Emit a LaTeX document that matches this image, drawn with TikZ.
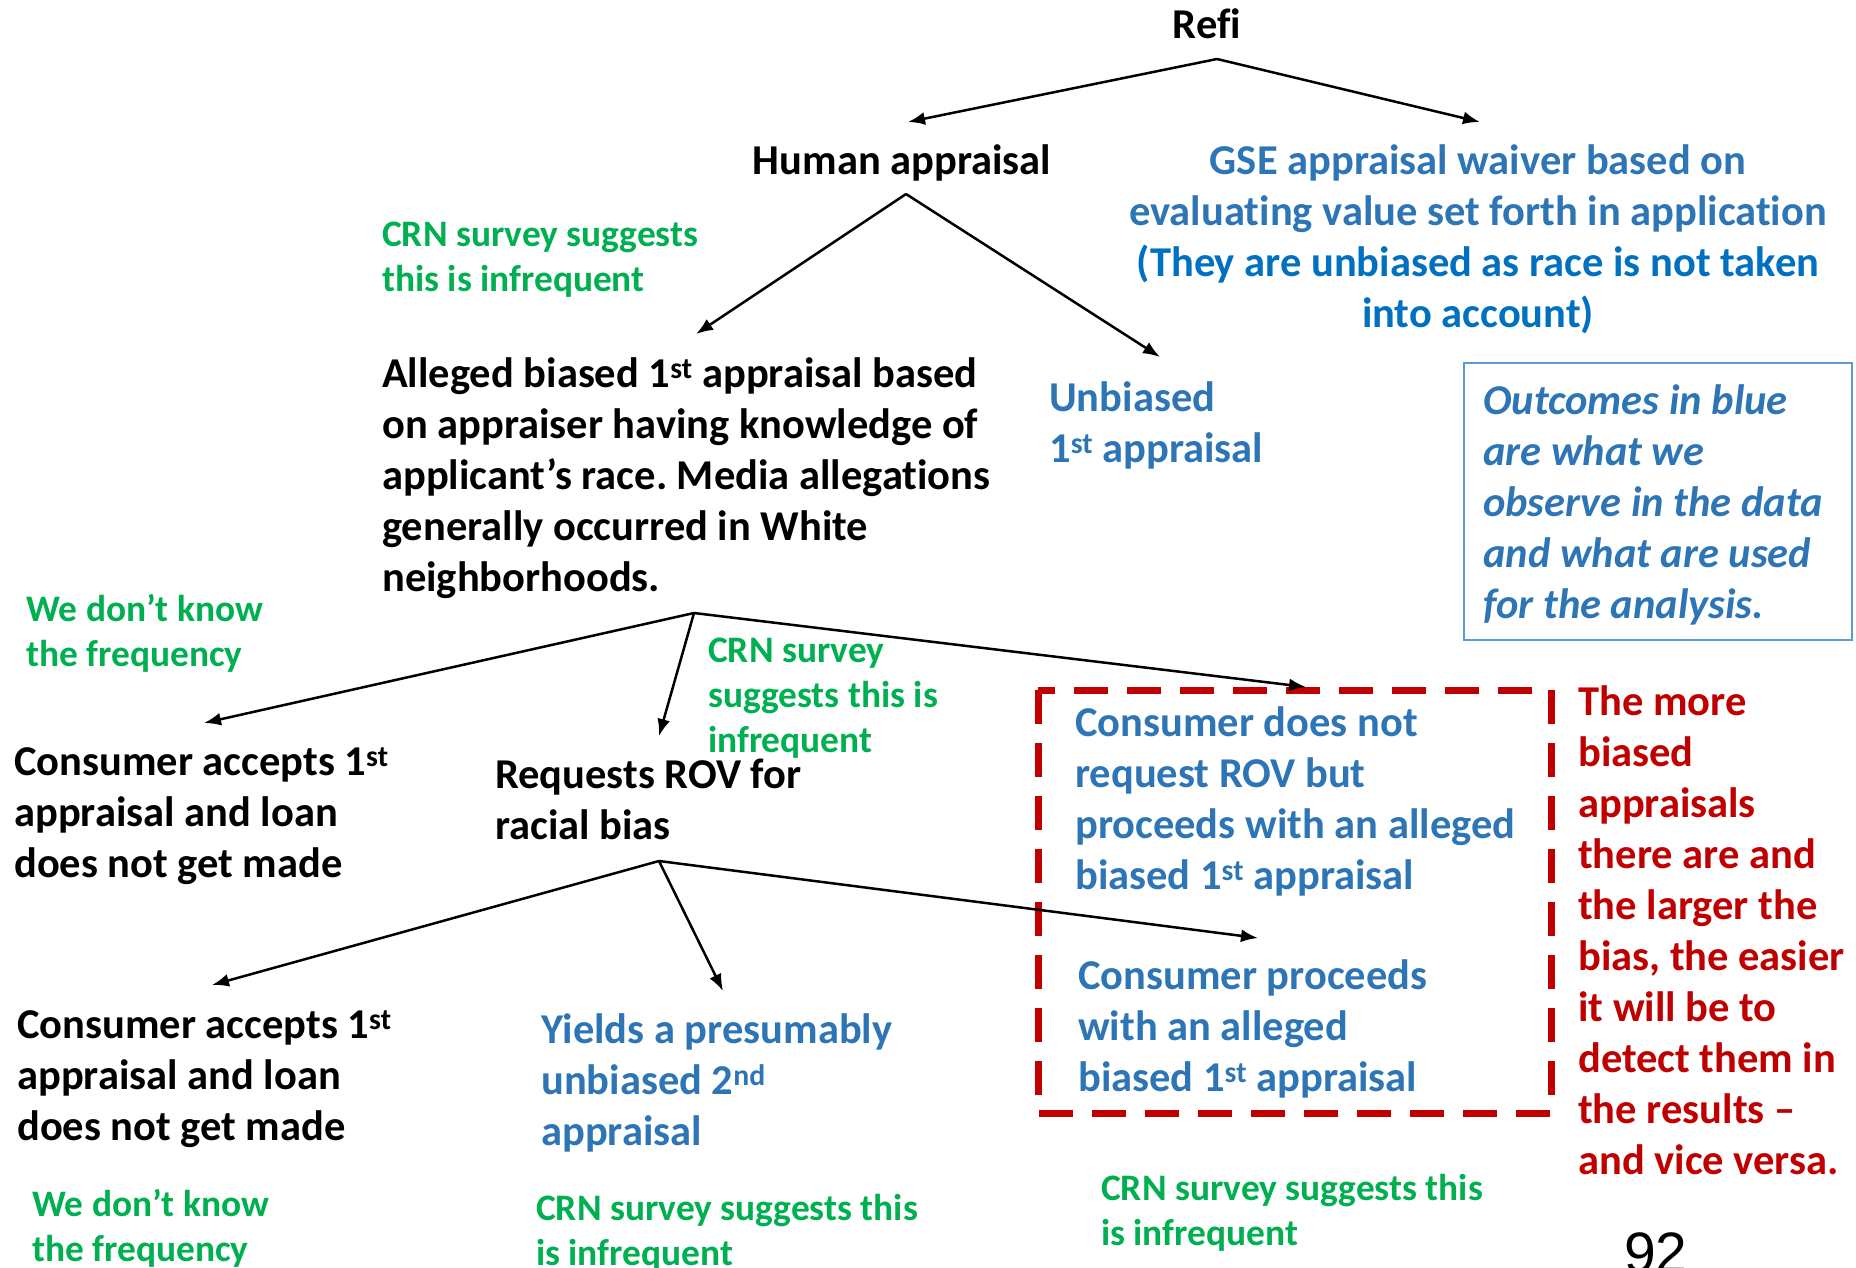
\documentclass[tikz,border=0pt]{standalone}
\usepackage{fontspec}
\setmainfont{Carlito}[Ligatures={NoCommon}]
\newfontfamily\arialf{Liberation Sans}
\usetikzlibrary{arrows.meta}
\definecolor{tblue}{HTML}{2E75B6}
\definecolor{tbluetwo}{HTML}{0070C0}
\definecolor{tgreen}{HTML}{00B050}
\definecolor{tred}{HTML}{C00000}
\definecolor{boxblue}{HTML}{5B9BD5}
\newcommand{\topst}{\rule{0pt}{0.88em}}
\newcommand{\sps}[1]{\textsuperscript{#1}}
\frenchspacing
\begin{document}
\begin{tikzpicture}[x=1pt,y=-1pt,
  txt/.style={inner sep=0pt, anchor=north west, align=left, font=\fontsize{42.5}{51}\selectfont\bfseries},
  ctxt/.style={txt, anchor=north, align=center},
  gtxt/.style={inner sep=0pt, anchor=north west, align=left, text=tgreen, font=\fontsize{37.4}{45}\selectfont\bfseries},
  conn/.style={line width=2.5pt, -{Latex[length=17pt,width=13pt]}},
  redbox/.style={draw=tred, line width=7pt, dash pattern=on 34pt off 19pt},
  outbox/.style={draw=boxblue, line width=1.5pt}
]
\useasboundingbox (0,0) rectangle (1856,1268);
\clip (0,0) rectangle (1856,1268);

% texts
\node[ctxt] (refi) at (1207,1) {\topst Refi};
\node[ctxt] (human) at (902,137) {\topst Human appraisal};
\node[ctxt, text=tblue] (gse) at (1478,137) {\topst GSE appraisal waiver based on\\ evaluating value set forth in application\\ \textcolor{tbluetwo}{(They are unbiased as race is not taken}\\ \textcolor{tbluetwo}{into account)}};
\node[gtxt] (crna) at (382,213) {\topst CRN survey suggests\\ this is infrequent};
\node[txt] (alleged) at (382,350) {\topst Alleged biased 1\sps{st} appraisal based\\ on appraiser having knowledge of\\ applicant’s race. Media allegations\\ generally occurred in White\\ neighborhoods.};
\node[txt, text=tblue] (unb) at (1049,374) {\topst Unbiased\\ 1\sps{st} appraisal};
\draw[outbox] (1464,363) rectangle (1852,640);
\node[txt, text=tblue, font=\fontsize{42.5}{51}\selectfont\bfseries\itshape] (outc) at (1483,377) {\topst Outcomes in blue\\ are what we\\ observe in the data\\ and what are used\\ for the analysis.};
\node[gtxt] (wdka) at (26,588) {\topst We don’t know\\ the frequency};
\node[gtxt] (crnb) at (708,629) {\topst CRN survey\\ suggests this is\\ infrequent};
\node[txt] (acca) at (14,738) {\topst Consumer accepts 1\sps{st}\\ appraisal and loan\\ does not get made};
\node[txt] (rov) at (495,751) {\topst Requests ROV for\\ racial bias};
\draw[redbox] (1038,690) rectangle (1551,1113);
\node[txt, text=tblue] (nrov) at (1075,699) {\topst Consumer does not\\ request ROV but\\ proceeds with an alleged\\ biased 1\sps{st} appraisal};
\node[txt, text=tblue] (proc) at (1078,952) {\topst Consumer proceeds\\ with an alleged\\ biased 1\sps{st} appraisal};
\node[txt, text=tred] (more) at (1578,678) {\topst The more\\ biased\\ appraisals\\ there are and\\ the larger the\\ bias, the easier\\ it will be to\\ detect them in\\ the results –\\ and vice versa.};
\node[txt] (accb) at (17,1001) {\topst Consumer accepts 1\sps{st}\\ appraisal and loan\\ does not get made};
\node[txt, text=tblue] (yield) at (541,1006) {\topst Yields a presumably\\ unbiased 2\sps{nd}\\ appraisal};
\node[gtxt] (wdkb) at (32,1183) {\topst We don’t know\\ the frequency};
\node[gtxt] (crnc) at (536,1187) {\topst CRN survey suggests this\\ is infrequent};
\node[gtxt] (crnd) at (1101,1167) {\topst CRN survey suggests this\\ is infrequent};
\node[inner sep=0pt, anchor=base west, font=\fontsize{57}{60}\selectfont\arialf] (pnum) at (1624,1272) {92};

% connector points
\coordinate (r0) at (1217,59);
\coordinate (r1) at (908,122);
\coordinate (r2) at (1480,122);
\coordinate (h0) at (906,194);
\coordinate (h1) at (696,334);
\coordinate (h2) at (1160,357);
\coordinate (a0) at (694,613);
\coordinate (a1) at (204,723);
\coordinate (a2) at (659,736);
\coordinate (a3) at (1306,687);
\coordinate (q0) at (659,861);
\coordinate (q1) at (212,985);
\coordinate (q2) at (723,991);
\coordinate (q3) at (1258,938);

\draw[conn] (r0) -- (r1);
\draw[conn] (r0) -- (r2);
\draw[conn] (h0) -- (h1);
\draw[conn] (h0) -- (h2);
\draw[conn] (a0) -- (a1);
\draw[conn] (a0) -- (a2);
\draw[conn] (a0) -- (a3);
\draw[conn] (q0) -- (q1);
\draw[conn] (q0) -- (q2);
\draw[conn] (q0) -- (q3);
\end{tikzpicture}
\end{document}
